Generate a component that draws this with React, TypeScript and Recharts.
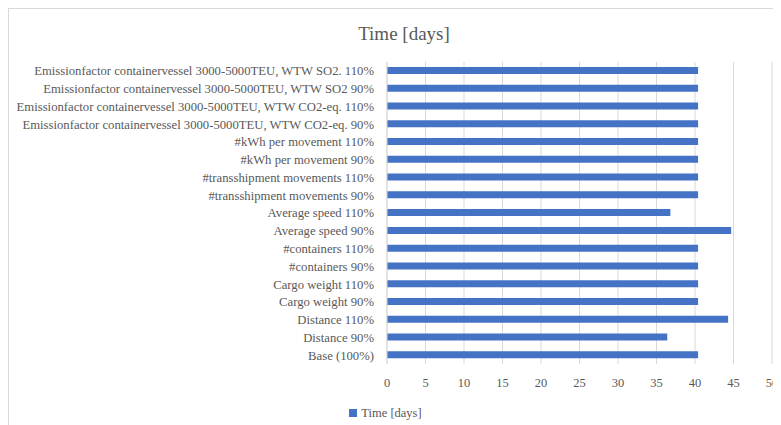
import React from 'react';
import { BarChart, Bar, XAxis, YAxis, CartesianGrid, Legend } from 'recharts';

// Sensitivity cases, listed top to bottom as they appear on the axis
const categories = [
  'Emissionfactor containervessel 3000-5000TEU, WTW SO2. 110%',
  'Emissionfactor containervessel 3000-5000TEU, WTW SO2 90%',
  'Emissionfactor containervessel 3000-5000TEU, WTW CO2-eq. 110%',
  'Emissionfactor containervessel 3000-5000TEU, WTW CO2-eq. 90%',
  '#kWh per movement 110%',
  '#kWh per movement 90%',
  '#transshipment movements 110%',
  '#transshipment movements 90%',
  'Average speed 110%',
  'Average speed 90%',
  '#containers 110%',
  '#containers 90%',
  'Cargo weight 110%',
  'Cargo weight 90%',
  'Distance 110%',
  'Distance 90%',
  'Base (100%)',
];

const timeDays = [
  40.4, 40.4, 40.4, 40.4, 40.4, 40.4, 40.4, 40.4,
  36.8, 44.7, 40.4, 40.4, 40.4, 40.4, 44.3, 36.4, 40.4,
];

const xTicks = [0, 5, 10, 15, 20, 25, 30, 35, 40, 45, 50];

const data = categories.map((name, i) => ({ name, time: timeDays[i] }));

const FONT = '"Liberation Serif", "Times New Roman", serif';
const TEXT = '#595959';
const GRID = '#d9d9d9';
const BAR = '#4472C4';

// single-line category label (the default tick wraps long names)
const CategoryTick = (props: any) => {
  const { x, y, payload } = props;
  return (
    <text x={x} y={y} dy="0.35em" textAnchor="end" fill={TEXT} fontSize={12.7} fontFamily={FONT}>
      {payload.value}
    </text>
  );
};

const ValueTick = (props: any) => {
  const { x, y, payload } = props;
  return (
    <text x={x} y={y} dy="0.71em" textAnchor="middle" fill={TEXT} fontSize={12.5} fontFamily={FONT}>
      {payload.value}
    </text>
  );
};

export default function App() {
  return (
    <div style={{ width: 773, height: 417, overflow: 'hidden' }}>
      <div
        style={{
          width: 800,
          height: 440,
          border: `1px solid ${GRID}`,
          background: '#fff',
          position: 'relative',
          fontFamily: FONT,
        }}
      >
        <div
          style={{
            position: 'absolute',
            top: 14,
            left: 0,
            width: 790,
            textAlign: 'center',
            fontSize: 19,
            color: TEXT,
          }}
        >
          Time [days]
        </div>
        <BarChart
          width={790}
          height={420}
          data={data}
          layout="vertical"
          margin={{ top: 53, right: 27, bottom: 0, left: 0 }}
          barCategoryGap={0}
        >
          <CartesianGrid horizontal={false} stroke={GRID} />
          <XAxis
            type="number"
            domain={[0, 50]}
            ticks={xTicks}
            axisLine={false}
            tickLine={false}
            tickSize={0}
            tickMargin={14}
            height={30}
            tick={<ValueTick />}
          />
          <YAxis
            type="category"
            dataKey="name"
            width={378}
            interval={0}
            axisLine={{ stroke: GRID }}
            tickLine={false}
            tickSize={0}
            tickMargin={13}
            tick={<CategoryTick />}
          />
          <Legend
            verticalAlign="bottom"
            height={35}
            iconType="square"
            iconSize={8}
            wrapperStyle={{ top: 394, fontFamily: FONT }}
            formatter={(value: string) => (
              <span style={{ color: TEXT, fontSize: 12.5, fontFamily: FONT }}>{value}</span>
            )}
          />
          <Bar dataKey="time" name="Time [days]" fill={BAR} barSize={7} isAnimationActive={false} />
        </BarChart>
      </div>
    </div>
  );
}
